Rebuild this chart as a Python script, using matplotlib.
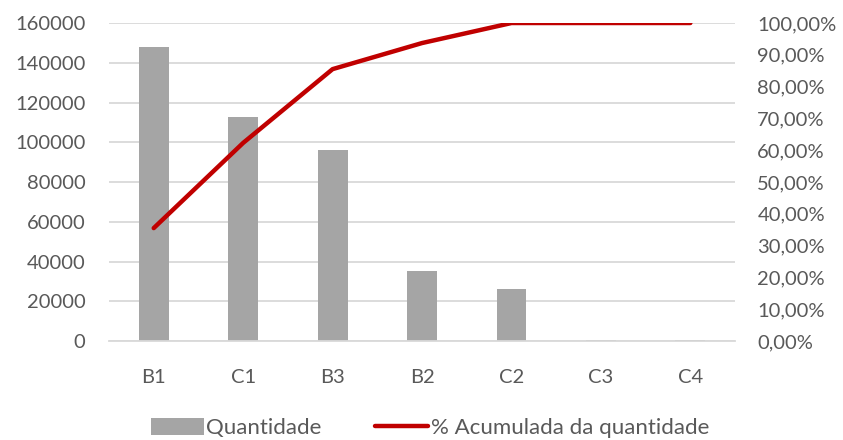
import matplotlib
matplotlib.use("Agg")
import matplotlib.pyplot as plt
from matplotlib.ticker import FuncFormatter, MultipleLocator

categories = ["B1", "C1", "B3", "B2", "C2", "C3", "C4"]
quantidade = [148000, 112700, 96000, 35000, 26200, 700, 300]
acumulada = [35.5, 62.3, 85.5, 93.7, 100.0, 100.0, 100.0]

bar_color = "#A5A5A5"
line_color = "#C00000"
text_color = "#595959"
grid_color = "#D9D9D9"

plt.rcParams["font.family"] = ["Lato", "DejaVu Sans"]

fig = plt.figure(figsize=(8.43, 4.40), dpi=100)
ax = fig.add_axes([0.1293, 0.225, 0.7427, 0.7227])
ax2 = ax.twinx()

x = list(range(len(categories)))
bars = ax.bar(x, quantidade, width=0.335, color=bar_color, zorder=2,
              label="Quantidade")
ax.set_xlim(-0.5, len(categories) - 0.5)
ax.set_ylim(0, 160000)
ax.yaxis.set_major_locator(MultipleLocator(20000))
ax.set_xticks(x)
ax.set_xticklabels(categories)
ax.grid(axis="y", color=grid_color, linewidth=1.3, zorder=0)
ax.set_axisbelow(True)

line, = ax2.plot(x, acumulada, color=line_color, linewidth=3.2,
                 solid_capstyle="round", solid_joinstyle="round",
                 label="% Acumulada da quantidade", zorder=3)
ax2.set_ylim(0, 100)
ax2.yaxis.set_major_locator(MultipleLocator(10))
ax2.yaxis.set_major_formatter(
    FuncFormatter(lambda v, _: f"{v:.2f}".replace(".", ",") + "%"))

for a in (ax, ax2):
    for s in a.spines.values():
        s.set_visible(False)
    a.tick_params(length=0, colors=text_color, labelsize=14.5)
ax.spines["bottom"].set_visible(True)
ax.spines["bottom"].set_color(grid_color)
ax.spines["bottom"].set_linewidth(1.3)
ax.tick_params(axis="y", pad=17)
ax.tick_params(axis="x", pad=20)
ax2.tick_params(axis="y", pad=16)

fig.legend(handles=[bars, line],
           labels=["Quantidade", "% Acumulada da quantidade"],
           loc="center", bbox_to_anchor=(0.51, 0.027), ncol=2,
           frameon=False, fontsize=16, labelcolor=text_color,
           handlelength=2.4, handleheight=0.8, handletextpad=0.1,
           columnspacing=2.4)

fig.savefig("out.png", dpi=100)
